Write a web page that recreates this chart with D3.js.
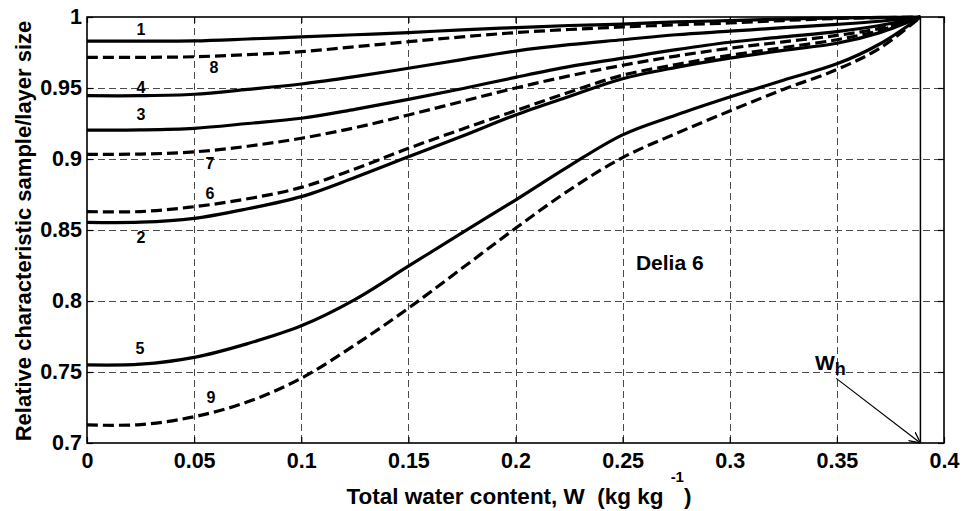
<!DOCTYPE html>
<html><head><meta charset="utf-8">
<script src="https://cdn.jsdelivr.net/npm/d3@7"></script>
<style>
body{margin:0;background:#fff}
svg{display:block}
text{font-family:"Liberation Sans",Arial,Helvetica,sans-serif;font-weight:bold;fill:#000}
</style>
</head><body>
<svg id="chart" width="966" height="511"></svg>
<script>
// ---------- data ----------
const waterContent = [0, 0.025, 0.05, 0.075, 0.1, 0.125, 0.15, 0.175, 0.2, 0.225, 0.25, 0.275, 0.3, 0.325, 0.35, 0.37, 0.389];
const curve1 = [0.983, 0.983, 0.9832, 0.9845, 0.986, 0.9875, 0.989, 0.991, 0.9925, 0.994, 0.995, 0.9965, 0.9975, 0.9985, 0.9993, 0.9997, 1];
const curve2 = [0.8554, 0.8555, 0.8582, 0.865, 0.8735, 0.887, 0.9016, 0.916, 0.931, 0.944, 0.9565, 0.9645, 0.971, 0.9765, 0.9815, 0.989, 1];
const curve3 = [0.9204, 0.9205, 0.9216, 0.925, 0.9287, 0.935, 0.942, 0.9495, 0.9575, 0.965, 0.971, 0.977, 0.9822, 0.986, 0.9897, 0.994, 1];
const curve4 = [0.9446, 0.9446, 0.9456, 0.949, 0.9528, 0.958, 0.9639, 0.970, 0.976, 0.9805, 0.984, 0.9875, 0.990, 0.9925, 0.9948, 0.997, 1];
const curve5 = [0.755, 0.7555, 0.7603, 0.770, 0.7825, 0.801, 0.8245, 0.848, 0.8711, 0.895, 0.917, 0.931, 0.9436, 0.9555, 0.967, 0.981, 1];
const curve6 = [0.863, 0.863, 0.8664, 0.872, 0.880, 0.893, 0.9075, 0.921, 0.934, 0.947, 0.959, 0.9665, 0.973, 0.9785, 0.984, 0.9905, 1];
const curve7 = [0.9033, 0.9035, 0.905, 0.909, 0.9146, 0.922, 0.931, 0.9405, 0.950, 0.9585, 0.966, 0.9725, 0.978, 0.9825, 0.987, 0.992, 1];
const curve8 = [0.9716, 0.9716, 0.972, 0.9735, 0.9756, 0.979, 0.9826, 0.986, 0.989, 0.9912, 0.993, 0.9945, 0.9958, 0.9975, 0.999, 0.9995, 1];
const curve9 = [0.7127, 0.713, 0.7185, 0.729, 0.7456, 0.769, 0.7949, 0.823, 0.8512, 0.878, 0.901, 0.918, 0.9338, 0.949, 0.963, 0.978, 1];

const seriesNames = ["1", "2", "3", "4", "5", "6", "7", "8", "9"];
const seriesValues = [curve1, curve2, curve3, curve4, curve5, curve6, curve7, curve8, curve9];
const dashedSeries = ["6", "7", "8", "9"];

const xTicks = [0, 0.05, 0.1, 0.15, 0.2, 0.25, 0.3, 0.35, 0.4];
const xTickLabels = ["0", "0.05", "0.1", "0.15", "0.2", "0.25", "0.3", "0.35", "0.4"];
const yTicks = [0.7, 0.75, 0.8, 0.85, 0.9, 0.95, 1];
const yTickLabels = ["0.7", "0.75", "0.8", "0.85", "0.9", "0.95", "1"];

// curve-number labels (data coordinates)
const labelX = [0.0252, 0.0252, 0.0252, 0.0252, 0.0247, 0.0574, 0.0574, 0.0593, 0.0579];
const labelY = [0.9915, 0.8444, 0.9313, 0.9507, 0.7669, 0.8757, 0.8965, 0.9641, 0.7317];

const hygroW = 0.389;           // W_h
const sampleName = "Delia 6";

// ---------- layout ----------
const svg = d3.select("#chart");
const L = 87, R = 944, T = 17, B = 443;
const x = d3.scaleLinear().domain([0, 0.4]).range([L, R]);
const y = d3.scaleLinear().domain([0.7, 1]).range([B, T]);

// grid
const grid = svg.append("g").attr("stroke", "#4a4a4a").attr("stroke-width", 1).attr("stroke-dasharray", "7,4").attr("fill", "none");
grid.selectAll("line.v").data(xTicks.slice(1, -1)).join("line")
  .attr("x1", d => Math.round(x(d)) + 0.5).attr("x2", d => Math.round(x(d)) + 0.5)
  .attr("y1", T).attr("y2", B);
grid.selectAll("line.h").data(yTicks.slice(1, -1)).join("line")
  .attr("y1", d => Math.round(y(d)) + 0.5).attr("y2", d => Math.round(y(d)) + 0.5)
  .attr("x1", L).attr("x2", R);

// axes
const fmtX = (d) => xTickLabels[xTicks.indexOf(d)];
const fmtY = (d) => yTickLabels[yTicks.indexOf(d)];
const axB = svg.append("g").attr("transform", `translate(0,${B})`)
  .call(d3.axisBottom(x).tickValues(xTicks).tickFormat(fmtX).tickSizeInner(-6).tickSizeOuter(0).tickPadding(10));
const axL = svg.append("g").attr("transform", `translate(${L},0)`)
  .call(d3.axisLeft(y).tickValues(yTicks).tickFormat(fmtY).tickSizeInner(-6).tickSizeOuter(0).tickPadding(5));
const axT = svg.append("g").attr("transform", `translate(0,${T})`)
  .call(d3.axisTop(x).tickValues(xTicks).tickFormat("").tickSizeInner(-6).tickSizeOuter(0));
const axR = svg.append("g").attr("transform", `translate(${R},0)`)
  .call(d3.axisRight(y).tickValues(yTicks).tickFormat("").tickSizeInner(-6).tickSizeOuter(0));
[axB, axL, axT, axR].forEach(a => {
  a.select(".domain").remove();
  a.selectAll(".tick line").attr("stroke", "#000").attr("stroke-width", 1.2);
  a.selectAll(".tick text").attr("font-size", 21.5).attr("font-family", null).attr("fill", "#000");
});

// frame
svg.append("rect").attr("x", L).attr("y", T).attr("width", R - L).attr("height", B - T)
  .attr("fill", "none").attr("stroke", "#000").attr("stroke-width", 1.6);

// curves
const line = d3.line().x(d => x(d[0])).y(d => y(d[1])).curve(d3.curveCatmullRom.alpha(0.5));
seriesNames.forEach((name, i) => {
  const pts = waterContent.map((w, j) => [w, seriesValues[i][j]]);
  svg.append("path").datum(pts)
    .attr("d", line)
    .attr("fill", "none")
    .attr("stroke", "#000")
    .attr("stroke-width", 3.2)
    .attr("stroke-linejoin", "round")
    .attr("stroke-dasharray", dashedSeries.includes(name) ? "11,5" : null);
});

// curve number labels
svg.append("g").selectAll("text").data(seriesNames).join("text")
  .attr("x", (d, i) => x(labelX[i]))
  .attr("y", (d, i) => y(labelY[i]))
  .attr("text-anchor", "middle")
  .attr("dominant-baseline", "central")
  .attr("font-size", 16)
  .text(d => d);

// W_h vertical line
svg.append("line").attr("x1", x(hygroW)).attr("x2", x(hygroW)).attr("y1", y(1)).attr("y2", y(0.7))
  .attr("stroke", "#000").attr("stroke-width", 1.5);

// arrow
svg.append("defs").append("marker").attr("id", "arr")
  .attr("viewBox", "0 0 10 10").attr("refX", 10).attr("refY", 5)
  .attr("markerWidth", 11).attr("markerHeight", 11).attr("markerUnits", "userSpaceOnUse")
  .attr("orient", "auto")
  .append("path").attr("d", "M0,0 L10,5 L0,10").attr("fill", "none").attr("stroke", "#000").attr("stroke-width", 1.2);
svg.append("line")
  .attr("x1", x(0.3497)).attr("y1", y(0.7455))
  .attr("x2", x(hygroW)).attr("y2", y(0.7))
  .attr("stroke", "#000").attr("stroke-width", 1.2).attr("marker-end", "url(#arr)");

const wh = svg.append("text").attr("x", x(0.3398)).attr("y", y(0.7514)).attr("font-size", 21);
wh.append("tspan").text("W");
wh.append("tspan").attr("font-size", 18).attr("dy", 5).text("h");

// sample name
svg.append("text").attr("x", x(0.2562)).attr("y", y(0.827)).attr("dominant-baseline", "central")
  .attr("font-size", 21).text(sampleName);

// axis titles
const xt = svg.append("text").attr("x", 519).attr("y", 504).attr("text-anchor", "middle")
  .attr("font-size", 22.5).style("white-space", "pre").attr("xml:space", "preserve");
xt.append("tspan").text("Total water content, W  (kg kg");
xt.append("tspan").attr("font-size", 15).attr("dx", 7).attr("dy", -22).text("-1");
xt.append("tspan").attr("dy", 22).text(")");

svg.append("text").attr("transform", "translate(31,231) rotate(-90)")
  .attr("text-anchor", "middle").attr("font-size", 22)
  .text("Relative characteristic sample/layer size");
</script>
</body></html>
